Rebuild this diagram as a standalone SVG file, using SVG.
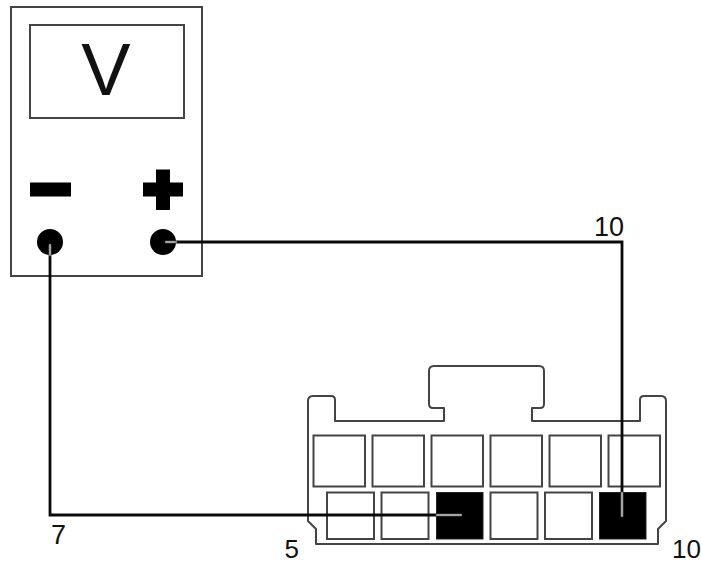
<svg xmlns="http://www.w3.org/2000/svg" width="701" height="564" viewBox="0 0 701 564">
<style>
.o{fill:#fff;stroke:#444;stroke-width:2}
.b{fill:#000;stroke:#222;stroke-width:1}
.w{fill:none;stroke:#0a0a0a;stroke-width:2.800}
.t{stroke:#777;stroke-width:2.600;stroke-linecap:round;fill:none}
.c{stroke:#ddd;stroke-width:.9;stroke-linecap:round;fill:none}
text{font-family:"Liberation Sans",Arial,sans-serif;fill:#111;font-size:26px}
</style>
<rect width="701" height="564" fill="#fff"/>
<g id="meter">
<rect class="o" x="11" y="7" width="191" height="269"/>
<rect class="o" x="30" y="25" width="154" height="93"/>
<text x="106" y="95" text-anchor="middle" style="font-size:74px">V</text>
<rect id="minus" x="30" y="182.500" width="41" height="14" fill="#000"/>
<path id="plus" d="M156 169.500h14v13h13v14h-13v13.500h-14v-13.500h-13v-14h13z" fill="#000"/>
<circle id="terminal-neg" cx="50" cy="242" r="13" fill="#000"/>
<circle id="terminal-pos" cx="163" cy="242" r="13" fill="#000"/>
</g>
<g id="connector">
<path class="o" d="M308 401q0-5 5-5H331q4 0 4 4V421H444V408H433q-4 0-4-4V371q0-5 5-5H539q5 0 5 5V404q0 4-4 4H532V421H640V400q0-4 4-4H661q5 0 5 5V521L658 529V544H316V529L308 521Z" stroke-linejoin="round"/>
<rect class="o" x="313.500" y="435.500" width="51.500" height="51"/>
<rect class="o" x="372.500" y="435.500" width="51.500" height="51"/>
<rect class="o" x="431.500" y="435.500" width="51.500" height="51"/>
<rect class="o" x="490.500" y="435.500" width="51.500" height="51"/>
<rect class="o" x="549.500" y="435.500" width="51.500" height="51"/>
<rect class="o" x="608.500" y="435.500" width="51.500" height="51"/>
<rect class="o" x="327" y="492.500" width="47" height="46.500"/>
<rect class="o" x="381.500" y="492.500" width="47" height="46.500"/>
<rect class="b" x="436.500" y="492.500" width="46.500" height="46.500"/>
<rect class="o" x="490.500" y="492.500" width="47" height="46.500"/>
<rect class="o" x="545" y="492.500" width="47" height="46.500"/>
<rect class="b" x="599.500" y="492.500" width="46.500" height="46.500"/>
</g>
<g id="connectors">
<path class="w" d="M163 242H622V517"/>
<path class="w" d="M50 242V515H462"/>
<path class="t" d="M166 242H176M50 245V255M622 493V516M437 515H461"/>
<path class="c" d="M166 242H175M50 245V254M622 493V516M437 515H461"/>
</g>
<g id="labels">
<text x="594" y="236" style="font-size:27px">10</text>
<text x="51" y="544" style="font-size:27px">7</text>
<text x="284.500" y="558">5</text>
<text x="672" y="558">10</text>
</g>
</svg>
